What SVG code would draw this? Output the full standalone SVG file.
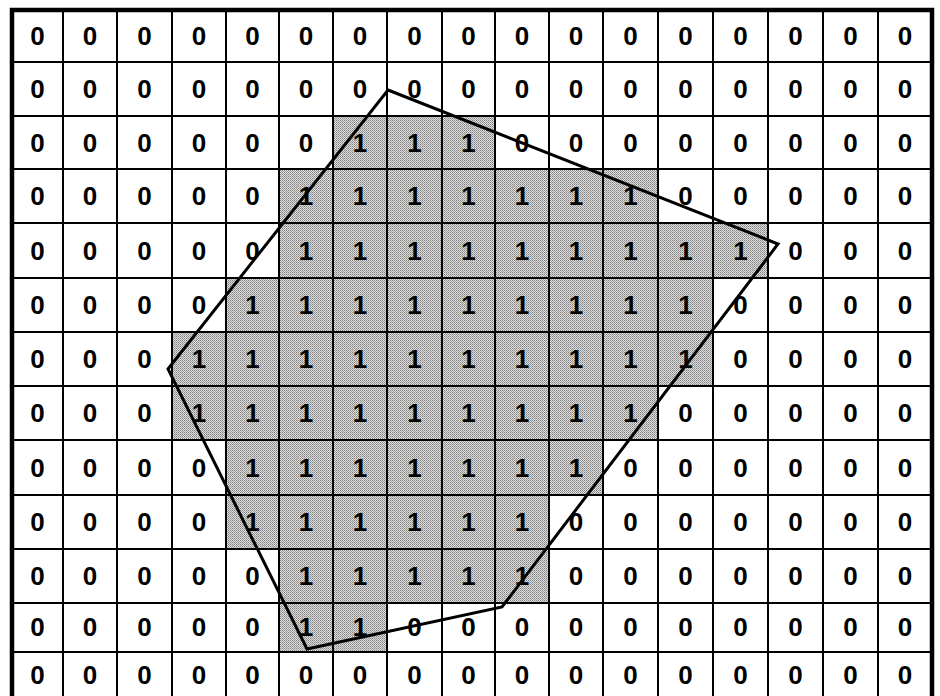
<svg xmlns="http://www.w3.org/2000/svg" width="940" height="696" viewBox="0 0 940 696">
<style>
.g{stroke:#000;stroke-width:2;fill:none}
.b{stroke:#000;stroke-width:4.5;fill:none}
.p{stroke:#000;stroke-width:3;fill:none;stroke-linejoin:miter}
text{font-family:"Liberation Sans",Arial,Helvetica,sans-serif;font-weight:bold;font-size:26px;text-anchor:middle;fill:#000}
</style>
<defs>
<pattern id="stip" width="2" height="2" patternUnits="userSpaceOnUse">
<rect width="2" height="2" fill="#dedede"/>
<rect width="1" height="1" fill="#808080"/>
<rect x="1" y="1" width="1" height="1" fill="#a0a0a0"/>
</pattern>
</defs>
<rect width="940" height="696" fill="#fff"/>
<g id="shading" fill="url(#stip)">
<rect x="333" y="116" width="162" height="53"/>
<rect x="279" y="169" width="379" height="54"/>
<rect x="279" y="223" width="489" height="55"/>
<rect x="226" y="278" width="487" height="54"/>
<rect x="172" y="332" width="541" height="54"/>
<rect x="172" y="386" width="486" height="54"/>
<rect x="226" y="440" width="377" height="55"/>
<rect x="226" y="495" width="323" height="54"/>
<rect x="279" y="549" width="270" height="54"/>
<rect x="279" y="603" width="108" height="49"/>
</g>
<g id="grid">
<path class="g" d="M63 10V700M117 10V700M172 10V700M226 10V700M279 10V700M333 10V700M387 10V700M442 10V700M495 10V700M549 10V700M603 10V700M658 10V700M713 10V700M768 10V700M823 10V700M878 10V700"/>
<path class="g" d="M12 62H932M12 116H932M12 169H932M12 223H932M12 278H932M12 332H932M12 386H932M12 440H932M12 495H932M12 549H932M12 603H932M12 652H932"/>
<path class="b" d="M12 700V10H932V700"/>
</g>
<g id="r0">
<text x="37.5" y="45">0</text><text x="90" y="45">0</text><text x="144.5" y="45">0</text><text x="199" y="45">0</text><text x="252.5" y="45">0</text><text x="306" y="45">0</text><text x="360" y="45">0</text><text x="414.5" y="45">0</text><text x="468.5" y="45">0</text><text x="522" y="45">0</text><text x="576" y="45">0</text><text x="630.5" y="45">0</text><text x="685.5" y="45">0</text><text x="740.5" y="45">0</text><text x="795.5" y="45">0</text><text x="850.5" y="45">0</text><text x="905" y="45">0</text>
</g>
<g id="r1">
<text x="37.5" y="98">0</text><text x="90" y="98">0</text><text x="144.5" y="98">0</text><text x="199" y="98">0</text><text x="252.5" y="98">0</text><text x="306" y="98">0</text><text x="360" y="98">0</text><text x="414.5" y="98">0</text><text x="468.5" y="98">0</text><text x="522" y="98">0</text><text x="576" y="98">0</text><text x="630.5" y="98">0</text><text x="685.5" y="98">0</text><text x="740.5" y="98">0</text><text x="795.5" y="98">0</text><text x="850.5" y="98">0</text><text x="905" y="98">0</text>
</g>
<g id="r2">
<text x="37.5" y="151.5">0</text><text x="90" y="151.5">0</text><text x="144.5" y="151.5">0</text><text x="199" y="151.5">0</text><text x="252.5" y="151.5">0</text><text x="306" y="151.5">0</text><text x="360" y="151.5">1</text><text x="414.5" y="151.5">1</text><text x="468.5" y="151.5">1</text><text x="522" y="151.5">0</text><text x="576" y="151.5">0</text><text x="630.5" y="151.5">0</text><text x="685.5" y="151.5">0</text><text x="740.5" y="151.5">0</text><text x="795.5" y="151.5">0</text><text x="850.5" y="151.5">0</text><text x="905" y="151.5">0</text>
</g>
<g id="r3">
<text x="37.5" y="205">0</text><text x="90" y="205">0</text><text x="144.5" y="205">0</text><text x="199" y="205">0</text><text x="252.5" y="205">0</text><text x="306" y="205">1</text><text x="360" y="205">1</text><text x="414.5" y="205">1</text><text x="468.5" y="205">1</text><text x="522" y="205">1</text><text x="576" y="205">1</text><text x="630.5" y="205">1</text><text x="685.5" y="205">0</text><text x="740.5" y="205">0</text><text x="795.5" y="205">0</text><text x="850.5" y="205">0</text><text x="905" y="205">0</text>
</g>
<g id="r4">
<text x="37.5" y="259.5">0</text><text x="90" y="259.5">0</text><text x="144.5" y="259.5">0</text><text x="199" y="259.5">0</text><text x="252.5" y="259.5">0</text><text x="306" y="259.5">1</text><text x="360" y="259.5">1</text><text x="414.5" y="259.5">1</text><text x="468.5" y="259.5">1</text><text x="522" y="259.5">1</text><text x="576" y="259.5">1</text><text x="630.5" y="259.5">1</text><text x="685.5" y="259.5">1</text><text x="740.5" y="259.5">1</text><text x="795.5" y="259.5">0</text><text x="850.5" y="259.5">0</text><text x="905" y="259.5">0</text>
</g>
<g id="r5">
<text x="37.5" y="314">0</text><text x="90" y="314">0</text><text x="144.5" y="314">0</text><text x="199" y="314">0</text><text x="252.5" y="314">1</text><text x="306" y="314">1</text><text x="360" y="314">1</text><text x="414.5" y="314">1</text><text x="468.5" y="314">1</text><text x="522" y="314">1</text><text x="576" y="314">1</text><text x="630.5" y="314">1</text><text x="685.5" y="314">1</text><text x="740.5" y="314">0</text><text x="795.5" y="314">0</text><text x="850.5" y="314">0</text><text x="905" y="314">0</text>
</g>
<g id="r6">
<text x="37.5" y="368">0</text><text x="90" y="368">0</text><text x="144.5" y="368">0</text><text x="199" y="368">1</text><text x="252.5" y="368">1</text><text x="306" y="368">1</text><text x="360" y="368">1</text><text x="414.5" y="368">1</text><text x="468.5" y="368">1</text><text x="522" y="368">1</text><text x="576" y="368">1</text><text x="630.5" y="368">1</text><text x="685.5" y="368">1</text><text x="740.5" y="368">0</text><text x="795.5" y="368">0</text><text x="850.5" y="368">0</text><text x="905" y="368">0</text>
</g>
<g id="r7">
<text x="37.5" y="422">0</text><text x="90" y="422">0</text><text x="144.5" y="422">0</text><text x="199" y="422">1</text><text x="252.5" y="422">1</text><text x="306" y="422">1</text><text x="360" y="422">1</text><text x="414.5" y="422">1</text><text x="468.5" y="422">1</text><text x="522" y="422">1</text><text x="576" y="422">1</text><text x="630.5" y="422">1</text><text x="685.5" y="422">0</text><text x="740.5" y="422">0</text><text x="795.5" y="422">0</text><text x="850.5" y="422">0</text><text x="905" y="422">0</text>
</g>
<g id="r8">
<text x="37.5" y="476.5">0</text><text x="90" y="476.5">0</text><text x="144.5" y="476.5">0</text><text x="199" y="476.5">0</text><text x="252.5" y="476.5">1</text><text x="306" y="476.5">1</text><text x="360" y="476.5">1</text><text x="414.5" y="476.5">1</text><text x="468.5" y="476.5">1</text><text x="522" y="476.5">1</text><text x="576" y="476.5">1</text><text x="630.5" y="476.5">0</text><text x="685.5" y="476.5">0</text><text x="740.5" y="476.5">0</text><text x="795.5" y="476.5">0</text><text x="850.5" y="476.5">0</text><text x="905" y="476.5">0</text>
</g>
<g id="r9">
<text x="37.5" y="531">0</text><text x="90" y="531">0</text><text x="144.5" y="531">0</text><text x="199" y="531">0</text><text x="252.5" y="531">1</text><text x="306" y="531">1</text><text x="360" y="531">1</text><text x="414.5" y="531">1</text><text x="468.5" y="531">1</text><text x="522" y="531">1</text><text x="576" y="531">0</text><text x="630.5" y="531">0</text><text x="685.5" y="531">0</text><text x="740.5" y="531">0</text><text x="795.5" y="531">0</text><text x="850.5" y="531">0</text><text x="905" y="531">0</text>
</g>
<g id="r10">
<text x="37.5" y="585">0</text><text x="90" y="585">0</text><text x="144.5" y="585">0</text><text x="199" y="585">0</text><text x="252.5" y="585">0</text><text x="306" y="585">1</text><text x="360" y="585">1</text><text x="414.5" y="585">1</text><text x="468.5" y="585">1</text><text x="522" y="585">1</text><text x="576" y="585">0</text><text x="630.5" y="585">0</text><text x="685.5" y="585">0</text><text x="740.5" y="585">0</text><text x="795.5" y="585">0</text><text x="850.5" y="585">0</text><text x="905" y="585">0</text>
</g>
<g id="r11">
<text x="37.5" y="636">0</text><text x="90" y="636">0</text><text x="144.5" y="636">0</text><text x="199" y="636">0</text><text x="252.5" y="636">0</text><text x="306" y="636">1</text><text x="360" y="636">1</text><text x="414.5" y="636">0</text><text x="468.5" y="636">0</text><text x="522" y="636">0</text><text x="576" y="636">0</text><text x="630.5" y="636">0</text><text x="685.5" y="636">0</text><text x="740.5" y="636">0</text><text x="795.5" y="636">0</text><text x="850.5" y="636">0</text><text x="905" y="636">0</text>
</g>
<g id="r12">
<text x="37.5" y="684">0</text><text x="90" y="684">0</text><text x="144.5" y="684">0</text><text x="199" y="684">0</text><text x="252.5" y="684">0</text><text x="306" y="684">0</text><text x="360" y="684">0</text><text x="414.5" y="684">0</text><text x="468.5" y="684">0</text><text x="522" y="684">0</text><text x="576" y="684">0</text><text x="630.5" y="684">0</text><text x="685.5" y="684">0</text><text x="740.5" y="684">0</text><text x="795.5" y="684">0</text><text x="850.5" y="684">0</text><text x="905" y="684">0</text>
</g>
<g id="polygon">
<path class="p" d="M388 90L778 244L502 607L307 649L168 369Z"/>
</g>
</svg>
